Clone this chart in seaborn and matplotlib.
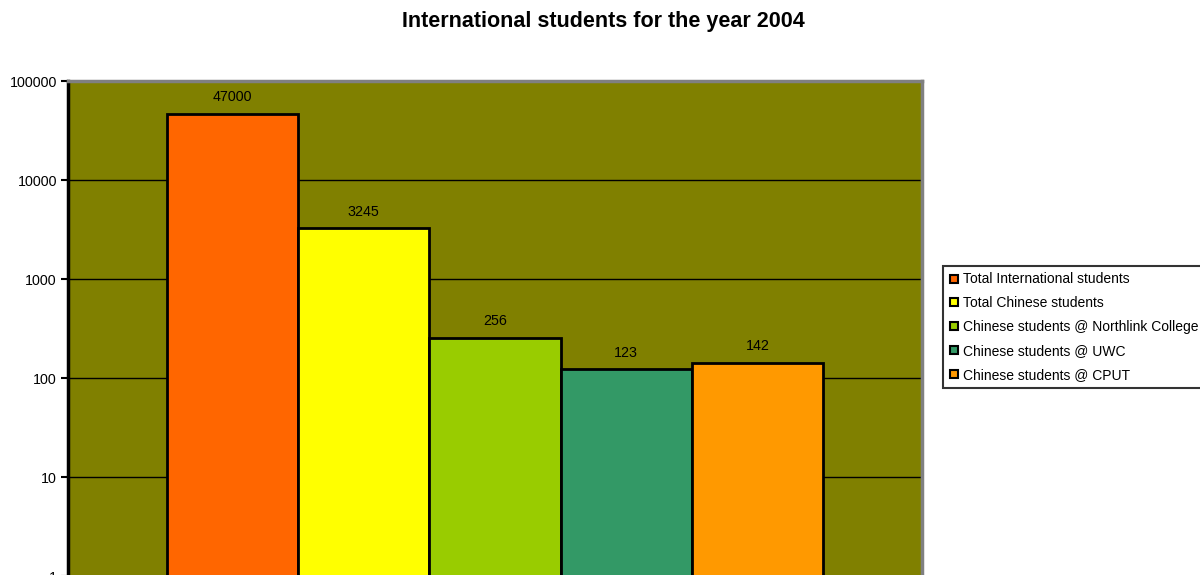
import matplotlib
matplotlib.use('Agg')
import matplotlib.pyplot as plt
import seaborn as sns
import pandas as pd
from matplotlib.lines import Line2D

# Data
categories = ['Total International students', 'Total Chinese students',
              'Chinese students @ Northlink College', 'Chinese students @ UWC',
              'Chinese students @ CPUT']
values = [47000, 3245, 256, 123, 142]
colors = ['#FF6600', '#FFFF00', '#99CC00', '#339966', '#FF9900']
ytick_vals = [1, 10, 100, 1000, 10000, 100000]

df = pd.DataFrame({'category': categories, 'students': values})

sns.set_style('white')
plt.rcParams['font.family'] = ['Liberation Sans', 'DejaVu Sans']
plt.rcParams['text.color'] = 'black'
plt.rcParams['ytick.color'] = 'black'
plt.rcParams['ytick.labelcolor'] = 'black'

fig = plt.figure(figsize=(12, 5.75), dpi=100)
ax = fig.add_axes([0.0567, -0.002, 0.7116, 0.861])
ax.set_facecolor('#808000')

sns.barplot(data=df, x='category', y='students', hue='category',
            palette=colors, saturation=1, dodge=False, width=1.0,
            edgecolor='black', linewidth=2, legend=False, ax=ax, zorder=3)

ax.set_yscale('log')
ax.set_ylim(1, 100000)
ax.set_xlim(-1.25, 5.25)
ax.set_yticks(ytick_vals)
ax.set_yticklabels([str(v) for v in ytick_vals], fontsize=10.3)
ax.minorticks_off()
ax.yaxis.grid(True, color='black', linewidth=1)
ax.set_axisbelow(True)
ax.set_xticks([])
ax.set_xlabel('')
ax.set_ylabel('')
ax.tick_params(axis='y', length=5, width=1.5, color='black', left=True, pad=3)

for side in ['top', 'right', 'bottom']:
    ax.spines[side].set_color('#808080')
    ax.spines[side].set_linewidth(2.5)
ax.spines['left'].set_color('black')
ax.spines['left'].set_linewidth(2.5)

for i, v in enumerate(values):
    ax.annotate(str(v), (i, v), xytext=(0, 12), textcoords='offset points',
                ha='center', va='center', fontsize=10.3, color='black')

fig.text(0.503, 0.963, 'International students for the year 2004',
         ha='center', va='center', fontsize=15.5, fontweight='bold',
         color='black')

handles = [Line2D([0], [0], marker='s', linestyle='', markersize=6,
                  markerfacecolor=c, markeredgecolor='black', markeredgewidth=1.5)
           for c in colors]
leg = fig.legend(handles, categories, loc='upper left',
                 bbox_to_anchor=(0.786, 0.537), fontsize=10, frameon=True,
                 fancybox=False, edgecolor='black', handlelength=0.6,
                 handletextpad=0.4, labelspacing=0.71, borderpad=0.45,
                 borderaxespad=0)
leg.get_frame().set_linewidth(1.5)

fig.savefig('out.png', dpi=100)
